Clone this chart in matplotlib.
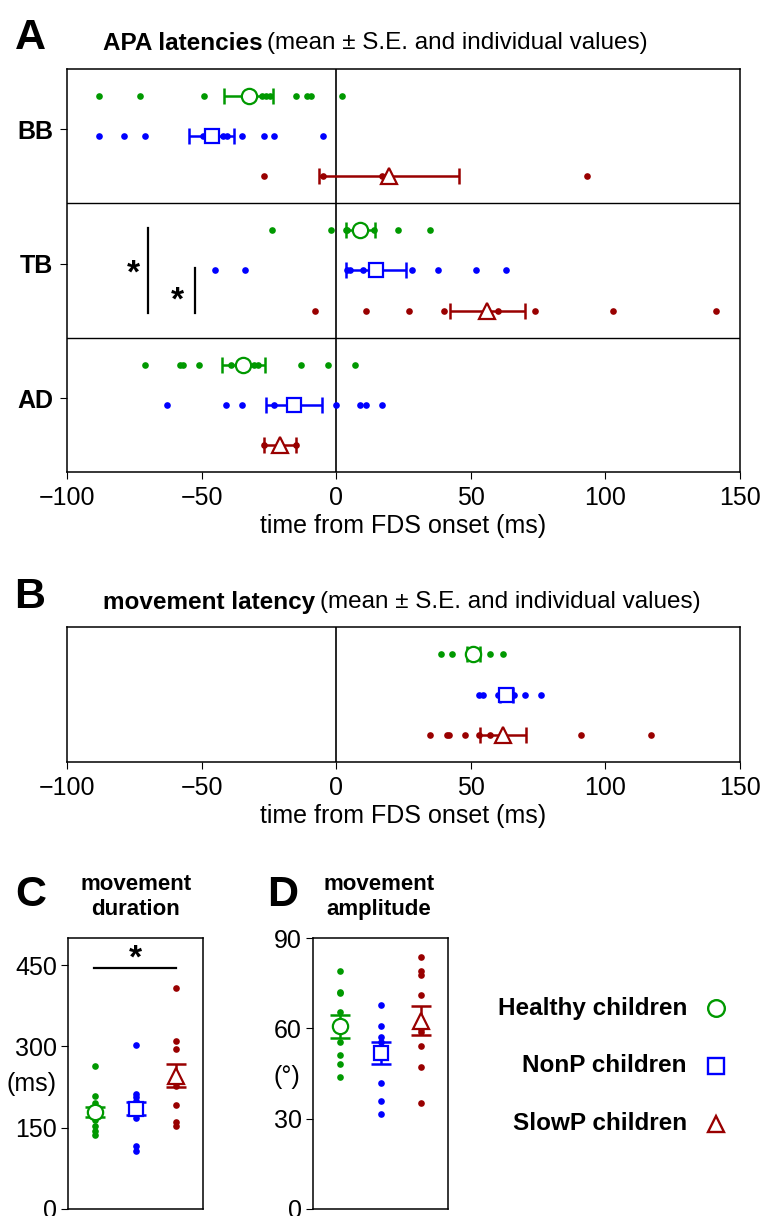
import matplotlib
matplotlib.use('Agg')
import matplotlib.pyplot as plt

plt.rcParams['font.family'] = ['Liberation Sans', 'DejaVu Sans']

W, H = 763, 1216

groups = ['Healthy children', 'NonP children', 'SlowP children']
colors = ['#009900', '#0000ff', '#990000']
markers = ['o', 's', '^']

# --- panel A: APA latencies (ms from FDS onset) ---
muscles = ['BB', 'TB', 'AD']
bb_green = [-88, -73, -49, -27.5, -26, -24.5, -15, -11, -9.5, 2]
bb_blue = [-88, -79, -71, -49.5, -42, -40.5, -35, -27, -23, -5]
bb_red = [-27, -5, 17, 93]
tb_green = [-24, -2, 3.5, 4, 9, 14, 23, 35]
tb_blue = [-45, -34, 4, 5, 10, 28, 38, 52, 63]
tb_red = [-8, 11, 27, 40, 60, 74, 103, 141]
ad_green = [-71, -58, -57, -51, -39, -30.5, -29, -13, -3, 7]
ad_blue = [-63, -41, -35, -23, 0, 9, 11, 17]
ad_red = [-27, -21, -15]
bb_mean = [-32.5, -46.3, 19.7]
bb_se = [9.1, 8.3, 26.0]
tb_mean = [9.0, 14.8, 56.2]
tb_se = [5.4, 11.0, 14.1]
ad_mean = [-34.5, -15.6, -21.0]
ad_se = [7.9, 10.3, 6.0]

# --- panel B: movement latency ---
lat_green = [39, 43, 50, 57, 62]
lat_blue = [53, 54.5, 60, 66, 70, 76]
lat_red = [35, 41, 42, 48, 53, 57, 91, 117]
lat_mean = [51.0, 63.2, 61.9]
lat_se = [2.5, 2.5, 8.6]

# --- panel C: movement duration (ms) ---
dur_green = [263, 209, 196, 172, 164, 153, 144, 136]
dur_blue = [302, 212, 206, 199, 168, 116, 107]
dur_red = [407, 310, 296, 227, 191, 160, 153]
dur_mean = [179, 185, 245.7]
dur_se = [10, 12, 21.5]

# --- panel D: movement amplitude (deg) ---
amp_green = [79, 72.2, 71.8, 65.3, 55.3, 51, 48, 44]
amp_blue = [67.8, 60.7, 57, 55.5, 42, 36, 31.4]
amp_red = [83.7, 78.9, 77.8, 71.2, 59.8, 58.9, 54.2, 47.3, 35.1]
amp_mean = [60.7, 51.8, 62.6]
amp_se = [3.8, 3.6, 4.7]

row_off = [0.8, 0.5, 0.2]
msize = [11, 10, 11]


def rect(l, t, r, b):
    return [l / W, 1 - b / H, (r - l) / W, (b - t) / H]


def horiz_group(ax, base, dots, means, ses):
    for i in range(3):
        y = base + row_off[i]
        ax.plot(dots[i], [y] * len(dots[i]), 'o', color=colors[i], ms=4.8,
                mec='none', zorder=3)
        ax.errorbar(means[i], y, xerr=ses[i], fmt='none', ecolor=colors[i],
                    elinewidth=1.8, capsize=6, capthick=1.8, zorder=4)
        ax.plot(means[i], y, markers[i], ms=msize[i], mfc='white',
                mec=colors[i], mew=1.6, zorder=5)


def vert_group(ax, dots, means, ses):
    for i in range(3):
        x = i + 1
        ax.plot([x] * len(dots[i]), dots[i], 'o', color=colors[i], ms=4.8,
                mec='none', zorder=3)
        ax.errorbar(x, means[i], yerr=ses[i], fmt='none', ecolor=colors[i],
                    elinewidth=1.8, capsize=7, capthick=1.8, zorder=4)
        ax.plot(x, means[i], markers[i], ms=msize[i], mfc='white',
                mec=colors[i], mew=1.6, zorder=5)


def title_pair(fig, x, y, bold, rest, size=17.5):
    t = fig.text(x / W, 1 - y / H, bold, fontsize=size, fontweight='bold',
                 va='center', ha='left')
    r = fig.canvas.get_renderer()
    bb = t.get_window_extent(renderer=r)
    fig.text(bb.x1 / fig.dpi / fig.get_figwidth() + 0.006, 1 - y / H, rest,
             fontsize=size, va='center', ha='left')


fig = plt.figure(figsize=(W / 100, H / 100), dpi=100)

# Panel A
axA = fig.add_axes(rect(67, 69, 740, 472))
for k, (dots, means, ses) in enumerate([
        ([ad_green, ad_blue, ad_red], ad_mean, ad_se),
        ([tb_green, tb_blue, tb_red], tb_mean, tb_se),
        ([bb_green, bb_blue, bb_red], bb_mean, bb_se)]):
    horiz_group(axA, k, dots, means, ses)
axA.axhline(1, color='black', lw=1)
axA.axhline(2, color='black', lw=1)
axA.axvline(0, color='black', lw=1.2, zorder=1)
axA.set_xlim(-100, 150)
axA.set_ylim(0, 3)
axA.set_yticks([2.55, 1.55, 0.55])
axA.set_yticklabels(muscles, fontsize=18, fontweight='bold')
axA.set_xticks([-100, -50, 0, 50, 100, 150])
axA.tick_params(axis='x', labelsize=18, length=5, pad=5)
axA.tick_params(axis='y', length=5, pad=5)
axA.set_xlabel('time from FDS onset (ms)', fontsize=18, labelpad=3)
# significance markers in TB
axA.plot([-69.8, -69.8], [1.82, 1.18], color='black', lw=1.6)
axA.plot([-52.5, -52.5], [1.52, 1.18], color='black', lw=1.6)
axA.text(-75.5, 1.47, '*', fontsize=24, fontweight='bold', ha='center', va='center')
axA.text(-58.8, 1.27, '*', fontsize=24, fontweight='bold', ha='center', va='center')

fig.text(30 / W, 1 - 38 / H, 'A', fontsize=31, fontweight='bold', ha='center', va='center')
title_pair(fig, 103, 43, 'APA latencies', '(mean \u00b1 S.E. and individual values)')

# Panel B
axB = fig.add_axes(rect(67, 627, 740, 762))
horiz_group(axB, 0, [lat_green, lat_blue, lat_red], lat_mean, lat_se)
axB.axvline(0, color='black', lw=1.2, zorder=1)
axB.set_xlim(-100, 150)
axB.set_ylim(0, 1)
axB.set_yticks([])
axB.set_xticks([-100, -50, 0, 50, 100, 150])
axB.tick_params(axis='x', labelsize=18, length=5, pad=5)
axB.set_xlabel('time from FDS onset (ms)', fontsize=18, labelpad=3)
fig.text(30 / W, 1 - 597 / H, 'B', fontsize=31, fontweight='bold', ha='center', va='center')
title_pair(fig, 103, 602, 'movement latency', '(mean \u00b1 S.E. and individual values)')

# Panel C
axC = fig.add_axes(rect(68, 938, 203, 1209))
vert_group(axC, [dur_green, dur_blue, dur_red], dur_mean, dur_se)
axC.set_xlim(1 / 3, 11 / 3)
axC.set_ylim(0, 500)
axC.set_xticks([])
axC.set_yticks([0, 150, 300, 450])
axC.tick_params(axis='y', labelsize=18, length=5, pad=3)
axC.plot([0.97, 3.0], [444, 444], color='black', lw=1.6)
axC.text(2, 462, '*', fontsize=24, fontweight='bold', ha='center', va='center')
axC.text(0.06, 230, '(ms)', fontsize=18, ha='right', va='center', clip_on=False)
fig.text(31 / W, 1 - 895 / H, 'C', fontsize=31, fontweight='bold', ha='center', va='center')
fig.text(136 / W, 1 - 897 / H, 'movement\nduration', fontsize=16, fontweight='bold',
         ha='center', va='center', linespacing=1.25)

# Panel D
axD = fig.add_axes(rect(313, 938, 448, 1209))
vert_group(axD, [amp_green, amp_blue, amp_red], amp_mean, amp_se)
axD.set_xlim(1 / 3, 11 / 3)
axD.set_ylim(0, 90)
axD.set_xticks([])
axD.set_yticks([0, 30, 60, 90])
axD.tick_params(axis='y', labelsize=18, length=5, pad=3)
axD.text(0.01, 44, '(\u00b0)', fontsize=18, ha='right', va='center', clip_on=False)
fig.text(283 / W, 1 - 895 / H, 'D', fontsize=31, fontweight='bold', ha='center', va='center')
fig.text(379 / W, 1 - 897 / H, 'movement\namplitude', fontsize=16, fontweight='bold',
         ha='center', va='center', linespacing=1.25)

# Legend
for i, (lab, yy) in enumerate(zip(groups, [1008, 1066, 1124])):
    fig.text(687 / W, 1 - yy / H, lab, fontsize=17.5, fontweight='bold',
             ha='right', va='center')
    fig.lines.append(plt.Line2D([716 / W], [1 - yy / H], marker=markers[i], ms=12,
                                mfc='white', mec=colors[i], mew=1.7,
                                transform=fig.transFigure))

for ax in [axA, axB, axC, axD]:
    for s in ax.spines.values():
        s.set_linewidth(1.1)

fig.savefig('out.png', dpi=100, facecolor='white')
